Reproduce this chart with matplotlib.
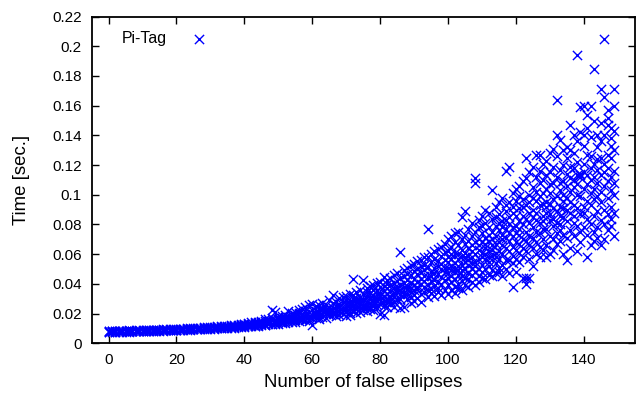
import matplotlib
matplotlib.use("Agg")
from matplotlib import pyplot as plt
from matplotlib.ticker import FormatStrFormatter

# processing time (ms), one row per number of false ellipses (0..149)
times_ms = [
    [7.9, 8.1, 7.7, 8.3], [8.0, 7.8, 8.2, 8.4], [7.9, 8.3, 8.0, 7.7], [8.1, 7.8, 8.4, 8.0],
    [8.2, 7.9, 8.5, 8.0], [8.0, 8.4, 7.8, 8.2], [8.3, 8.1, 7.9, 8.6], [8.2, 8.5, 8.0, 8.3],
    [8.4, 8.1, 8.7, 8.2], [8.3, 8.6, 8.0, 8.4], [8.5, 8.2, 8.8, 8.3], [8.4, 8.7, 8.1, 8.9],
    [8.6, 8.3, 8.9, 8.5], [8.5, 8.8, 8.2, 9.0], [8.7, 8.4, 9.1, 8.6], [8.8, 8.5, 9.2, 8.6],
    [8.7, 9.0, 8.4, 9.3], [8.9, 8.6, 9.4, 8.8], [9.0, 8.7, 9.5, 8.9], [9.1, 8.8, 9.6, 8.9],
    [9.2, 8.9, 9.7, 9.0], [9.1, 9.4, 8.9, 9.8], [9.3, 9.0, 9.9, 9.5], [9.4, 9.1, 10.0, 9.6],
    [9.5, 9.2, 10.2, 9.7], [9.6, 9.3, 10.3, 9.8], [9.7, 9.4, 10.4, 9.9], [9.8, 9.5, 10.6, 10.0],
    [10.0, 9.6, 10.7, 10.2], [10.1, 9.7, 10.9, 10.3], [10.2, 9.8, 11.0, 10.5], [10.3, 9.9, 11.2, 10.6],
    [10.4, 10.0, 11.4, 10.8], [10.6, 10.1, 11.5, 10.9], [10.7, 10.2, 11.7, 11.1], [10.9, 10.4, 11.9, 11.2],
    [11.0, 10.5, 12.1, 11.4], [11.2, 10.6, 12.3, 11.6], [11.3, 10.8, 12.5, 11.8], [11.5, 10.9, 12.8, 12.0],
    # 40 - 69
    [12.1, 11.0, 13.3, 11.8, 12.7], [11.4, 12.9, 12.2, 13.6, 11.9], [13.0, 11.6, 12.4, 14.1, 12.0],
    [11.9, 13.8, 12.6, 11.3, 14.4], [12.9, 14.6, 11.8, 13.4, 12.3], [13.7, 12.0, 15.2, 12.8, 14.1],
    [12.5, 14.9, 13.3, 16.0, 12.2], [14.2, 12.7, 16.6, 13.6, 15.1], [13.1, 22.4, 15.6, 12.8, 17.3],
    [15.9, 13.5, 21.0, 14.6, 12.9], [14.1, 17.8, 13.2, 15.4, 16.5], [16.9, 13.9, 18.5, 15.0, 14.4],
    [14.8, 19.3, 13.6, 16.8, 17.6], [21.7, 15.3, 14.0, 17.9, 16.2], [15.8, 18.8, 14.6, 20.1, 16.9],
    [17.4, 14.3, 21.1, 15.6, 19.0], [16.1, 20.6, 18.0, 14.9, 22.3], [19.5, 15.5, 17.2, 23.0, 16.6],
    [17.8, 21.8, 15.9, 19.9, 24.1], [16.4, 25.6, 18.6, 21.2, 15.3], [19.2, 12.6, 22.4, 17.1, 26.3],
    [20.7, 16.8, 24.8, 18.3, 22.0], [18.0, 23.3, 16.5, 21.1, 25.7], [22.6, 19.4, 27.1, 17.6, 24.0],
    [17.3, 21.7, 25.9, 19.9, 23.2], [24.5, 20.3, 18.7, 29.2, 22.1], [19.6, 32.8, 23.6, 21.0, 26.8],
    [25.3, 18.4, 22.7, 28.1, 20.6], [21.5, 26.4, 19.1, 30.2, 24.3], [23.8, 20.0, 31.4, 22.3, 27.5],
    # 70 - 99
    [27.0, 21.2, 24.6, 18.2, 31.9, 22.8, 29.3], [20.4, 25.8, 33.4, 23.1, 28.4, 19.0, 26.9],
    [24.9, 43.1, 21.6, 29.7, 26.1, 32.6, 22.2], [30.8, 22.9, 27.5, 20.1, 34.5, 25.2, 28.9],
    [23.7, 29.0, 35.6, 26.6, 21.3, 31.2, 27.9], [28.6, 42.5, 24.4, 33.0, 22.6, 30.1, 26.0],
    [25.5, 31.7, 37.2, 23.5, 28.0, 34.4, 21.9], [33.8, 26.8, 23.0, 29.9, 38.6, 27.4, 31.0],
    [27.1, 36.0, 24.8, 32.3, 29.4, 22.5, 39.4], [30.6, 25.9, 34.9, 28.2, 40.7, 23.9, 32.9],
    [26.2, 19.6, 33.6, 37.8, 29.6, 41.5, 31.6], [35.2, 18.9, 28.7, 44.6, 32.1, 25.4, 38.3],
    [29.1, 36.9, 24.2, 42.9, 33.3, 27.6, 39.8], [38.9, 30.4, 26.7, 35.5, 44.0, 31.8, 28.3],
    [31.3, 46.1, 27.8, 37.0, 33.9, 40.6, 24.7], [34.7, 28.8, 41.9, 36.4, 47.4, 30.0, 38.1],
    [29.8, 61.2, 36.2, 33.1, 43.7, 23.9, 39.0], [40.3, 32.5, 24.4, 37.6, 49.3, 34.1, 45.2],
    [33.4, 42.3, 38.7, 50.6, 29.5, 46.8, 36.8], [37.3, 31.2, 52.4, 40.9, 34.6, 45.9, 27.2],
    [43.5, 35.9, 28.6, 48.8, 39.5, 53.7, 32.4], [36.6, 55.2, 41.2, 30.7, 46.4, 38.0, 50.1],
    [40.0, 33.0, 47.9, 56.3, 43.2, 28.1, 51.8], [45.6, 57.8, 37.9, 34.4, 49.6, 42.1, 53.0],
    [35.8, 76.9, 44.7, 51.1, 39.2, 58.4, 30.9], [48.3, 41.7, 60.2, 36.3, 54.6, 45.1, 33.7],
    [42.8, 62.0, 38.4, 50.9, 31.5, 56.7, 47.2], [55.5, 37.1, 46.6, 63.8, 41.4, 52.2, 34.8],
    [39.7, 49.9, 65.1, 44.3, 58.9, 32.6, 53.4], [47.7, 66.7, 42.5, 36.1, 55.9, 61.3, 50.5],
    # 100 - 149
    [44, 58, 33, 51, 70, 39, 62, 47, 55], [52, 36, 65, 45, 72, 41, 57, 49, 60],
    [38, 61, 48, 68, 54, 43, 74, 50, 34], [57, 46, 40, 66, 52, 75, 37, 60, 49],
    [49, 85, 59, 42, 63, 53, 36, 70, 45], [61, 44, 89, 55, 39, 67, 50, 73, 58],
    [43, 64, 53, 77, 47, 59, 38, 69, 56], [66, 51, 41, 72, 58, 81, 46, 62, 54],
    [48, 111, 108, 60, 39, 68, 55, 75, 52], [70, 57, 45, 83, 63, 50, 66, 41, 78],
    [53, 74, 61, 44, 86, 58, 68, 48, 79], [64, 90, 50, 71, 57, 43, 81, 60, 67],
    [46, 69, 78, 55, 88, 62, 52, 73, 58], [75, 103, 59, 49, 66, 84, 45, 70, 63],
    [58, 79, 67, 92, 54, 47, 72, 85, 61], [68, 51, 87, 62, 76, 95, 57, 48, 81],
    [82, 60, 73, 53, 98, 66, 78, 45, 70], [56, 116, 77, 64, 89, 71, 50, 83, 93],
    [74, 119, 62, 85, 56, 95, 69, 47, 80], [65, 38, 88, 72, 101, 59, 78, 92, 54],
    [79, 57, 96, 68, 48, 86, 104, 63, 74], [61, 91, 73, 106, 55, 82, 67, 99, 77],
    [86, 44, 70, 97, 64, 109, 58, 80, 92], [40, 125, 75, 62, 93, 84, 111, 69, 44],
    [72, 100, 88, 57, 115, 66, 81, 95, 44], [90, 64, 105, 78, 52, 119, 85, 71, 98],
    [68, 112, 83, 96, 60, 127, 75, 102, 88], [58, 93, 127, 74, 108, 81, 65, 99, 116],
    [101, 70, 86, 121, 63, 94, 110, 77, 82], [77, 123, 95, 66, 104, 88, 58, 113, 92],
    [94, 60, 115, 83, 128, 72, 101, 87, 107], [84, 108, 70, 131, 97, 63, 119, 91, 79],
    [164, 140, 89, 74, 112, 99, 126, 81, 67], [103, 80, 137, 92, 69, 117, 86, 108, 76],
    [73, 120, 96, 85, 130, 60, 109, 100, 91], [98, 56, 114, 82, 125, 90, 71, 106, 132],
    [147, 88, 130, 76, 111, 95, 64, 119, 102], [81, 105, 140, 93, 72, 118, 86, 128, 110],
    [194, 113, 79, 100, 136, 91, 62, 122, 107], [113, 159, 87, 114, 142, 75, 99, 112, 68],
    [160, 92, 140, 115, 78, 104, 133, 88, 121], [154, 58, 113, 96, 127, 84, 145, 107, 73],
    [139, 160, 101, 80, 118, 66, 126, 93, 110], [185, 75, 97, 121, 150, 86, 112, 69, 104],
    [140, 89, 117, 78, 132, 99, 71, 124, 108], [171, 125, 95, 148, 83, 113, 66, 136, 102],
    [205, 166, 70, 106, 140, 90, 121, 80, 115], [157, 147, 98, 127, 76, 152, 109, 87, 118],
    [133, 79, 145, 103, 125, 92, 112, 84, 138], [171, 160, 88, 130, 72, 116, 100, 143, 108],
]

x_ticks = [0, 20, 40, 60, 80, 100, 120, 140]
y_ticks = [0, 0.02, 0.04, 0.06, 0.08, 0.1, 0.12, 0.14, 0.16, 0.18, 0.2, 0.22]

n_false = []
seconds = []
for n, row in enumerate(times_ms):
    for t in row:
        n_false.append(n)
        seconds.append(t / 1000.0)

plt.rcParams['font.family'] = ['Liberation Sans', 'DejaVu Sans']

fig = plt.figure(figsize=(6.36, 3.95), dpi=100)
ax = fig.add_axes([0.144, 0.131, 0.854, 0.827])

ax.scatter(n_false, seconds, marker="x", s=44, color="#0000ff", linewidths=1.0, label="Pi-Tag")

ax.set_xlim(-5, 155)
ax.set_ylim(0, 0.22)
ax.set_xticks(x_ticks)
ax.set_yticks(y_ticks)
ax.yaxis.set_major_formatter(FormatStrFormatter('%g'))
ax.tick_params(direction="in", length=5, width=1, top=True, right=True, labelsize=11, pad=7)
for s in ax.spines.values():
    s.set_linewidth(1.3)

ax.set_xlabel("Number of false ellipses", fontsize=13.4, labelpad=5)
ax.set_ylabel("Time [sec.]", fontsize=13.4, labelpad=16)

ax.legend(loc="upper left", bbox_to_anchor=(0.0558, 0.955), frameon=False, markerfirst=False,
          fontsize=11.4, handletextpad=1.0, borderaxespad=0, borderpad=0, scatterpoints=1)

fig.savefig("out.png", dpi=100)
